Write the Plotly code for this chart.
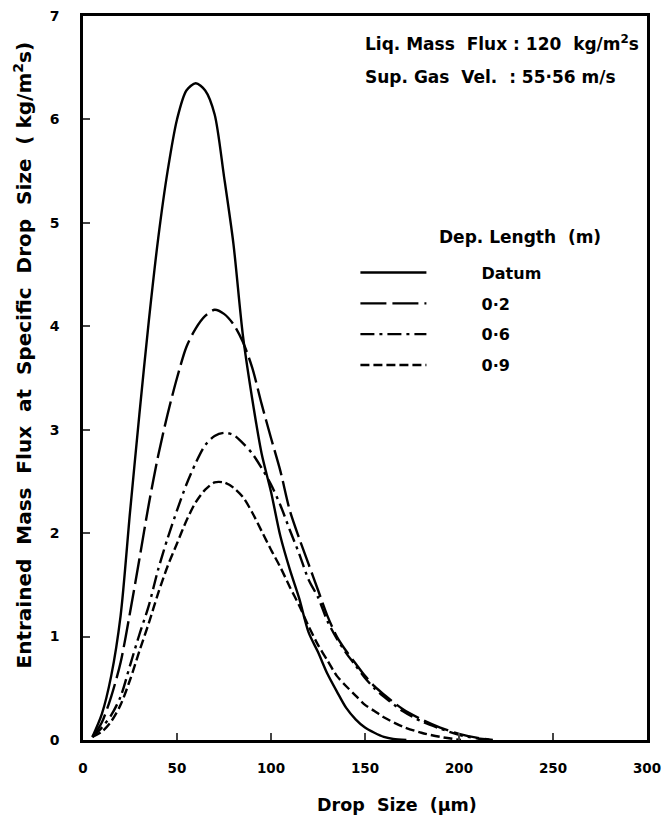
import plotly.graph_objects as go

# Drop size (µm) and entrained mass flux (kg/m²s) for each deposition length
datum_x = [5, 10, 15, 20, 25, 30, 35, 40, 45, 50, 55, 60, 65, 70, 75, 80, 85, 90, 95, 100,
           105, 110, 115, 120, 125, 130, 135, 140, 145, 150, 155, 160, 165, 172]
datum_y = [0.03, 0.25, 0.62, 1.2, 2.2, 3.15, 4.05, 4.85, 5.5, 6.0, 6.28, 6.35, 6.28, 6.05, 5.45,
           4.8, 3.92, 3.3, 2.77, 2.4, 1.97, 1.65, 1.37, 1.04, 0.85, 0.64, 0.47, 0.31, 0.2, 0.12,
           0.07, 0.03, 0.01, 0.0]

d02_x = [5, 10, 15, 20, 25, 30, 35, 40, 45, 50, 55, 60, 65, 70, 75, 80, 85, 90, 95, 100, 105,
         110, 115, 120, 125, 130, 135, 140, 145, 150, 155, 160, 170, 180, 190, 200, 210, 218]
d02_y = [0.03, 0.17, 0.42, 0.75, 1.23, 1.75, 2.28, 2.75, 3.15, 3.5, 3.8, 3.98, 4.1, 4.16, 4.12,
         4.02, 3.85, 3.6, 3.25, 2.92, 2.6, 2.22, 1.95, 1.7, 1.45, 1.2, 1.0, 0.86, 0.74, 0.62,
         0.52, 0.44, 0.3, 0.2, 0.12, 0.06, 0.02, 0.0]

d06_x = [5, 10, 15, 20, 25, 30, 35, 40, 45, 50, 55, 60, 65, 70, 75, 80, 85, 90, 95, 100, 105,
         110, 115, 120, 125, 130, 135, 140, 145, 150, 155, 160, 170, 180, 190, 200, 210, 218]
d06_y = [0.03, 0.12, 0.24, 0.42, 0.72, 1.02, 1.3, 1.65, 1.95, 2.22, 2.47, 2.68, 2.85, 2.94, 2.97,
         2.95, 2.87, 2.77, 2.63, 2.47, 2.27, 2.03, 1.8, 1.55, 1.38, 1.15, 0.98, 0.84, 0.72, 0.6,
         0.5, 0.42, 0.28, 0.18, 0.11, 0.05, 0.015, 0.0]

d09_x = [5, 10, 15, 20, 25, 30, 35, 40, 45, 50, 55, 60, 65, 70, 75, 80, 85, 90, 95, 100, 105,
         110, 115, 120, 125, 130, 135, 140, 145, 150, 155, 160, 170, 180, 190, 201]
d09_y = [0.03, 0.08, 0.18, 0.34, 0.58, 0.86, 1.13, 1.42, 1.68, 1.9, 2.12, 2.3, 2.42, 2.49, 2.49,
         2.44, 2.35, 2.2, 2.02, 1.84, 1.67, 1.48, 1.3, 1.1, 0.92, 0.77, 0.62, 0.52, 0.43, 0.34,
         0.28, 0.22, 0.13, 0.07, 0.03, 0.0]

series_names = ["Datum", "0·2", "0·6", "0·9"]
x_ticks = [0, 50, 100, 150, 200, 250, 300]
y_ticks = [0, 1, 2, 3, 4, 5, 6, 7]

FONT = "DejaVu Sans"
PAD = "\u00a0" * 9
series = [
    (datum_x, datum_y, series_names[0], "solid"),
    (d02_x, d02_y, series_names[1], "26px,6px"),
    (d06_x, d06_y, series_names[2], "14px,5px,3px,5px"),
    (d09_x, d09_y, series_names[3], "9px,4px"),
]

fig = go.Figure()
for i, (xs, ys, name, dash) in enumerate(series):
    fig.add_trace(go.Scatter(
        x=xs, y=ys, name=PAD + name, mode="lines", legendgroup=f"g{i}",
        line=dict(color="black", width=2.4, dash=dash, shape="spline", smoothing=0.8),
    ))

fig.update_layout(
    width=662, height=816,
    margin=dict(l=83, r=15, t=16, b=76),
    paper_bgcolor="white", plot_bgcolor="white",
    font=dict(family=FONT, size=14, color="black"),
    showlegend=True,
    legend=dict(x=0.483, y=0.669, xanchor="left", yanchor="top",
                bgcolor="rgba(0,0,0,0)", tracegroupgap=7, itemwidth=66,
                font=dict(family=FONT, size=16, color="black", weight="bold")),
    xaxis=dict(range=[0, 300], tickvals=x_ticks, ticks="inside", ticklen=7, tickwidth=2,
               showline=True, linewidth=2.5, linecolor="black", mirror=True,
               showgrid=False, zeroline=False, ticklabeloverflow="allow",
               automargin=False, ticklabelstandoff=14,
               tickfont=dict(family=FONT, size=13.5, weight="bold")),
    yaxis=dict(range=[0, 7], tickvals=y_ticks, ticks="inside", ticklen=7, tickwidth=2,
               showline=True, linewidth=2.5, linecolor="black", mirror=True,
               showgrid=False, zeroline=False, ticklabeloverflow="allow",
               automargin=False, ticklabelstandoff=18,
               tickfont=dict(family=FONT, size=14, weight="bold")),
    annotations=[
        dict(x=0.556, y=-0.0898, xref="paper", yref="paper", xanchor="center", yanchor="middle",
             text="Drop  Size  (µm)", showarrow=False,
             font=dict(family=FONT, size=17.5, weight="bold")),
        dict(x=-0.107, y=0.532, xref="paper", yref="paper", xanchor="center", yanchor="middle",
             textangle=-90,
             text="Entrained  Mass  Flux  at  Specific  Drop  Size  ( kg/m<sup>2</sup>s)",
             showarrow=False, font=dict(family=FONT, size=20, weight="bold")),
        dict(x=0.496, y=0.963, xref="paper", yref="paper", xanchor="left", yanchor="middle",
             text="Liq. Mass  Flux : 120  kg/m<sup>2</sup>s", showarrow=False,
             font=dict(family=FONT, size=17, weight="bold")),
        dict(x=0.496, y=0.916, xref="paper", yref="paper", xanchor="left", yanchor="middle",
             text="Sup. Gas  Vel.  : 55·56 m/s", showarrow=False,
             font=dict(family=FONT, size=17, weight="bold")),
        dict(x=0.628, y=0.695, xref="paper", yref="paper", xanchor="left", yanchor="middle",
             text="Dep. Length  (m)", showarrow=False,
             font=dict(family=FONT, size=17, weight="bold")),
    ],
)

fig.write_html("out.html")
